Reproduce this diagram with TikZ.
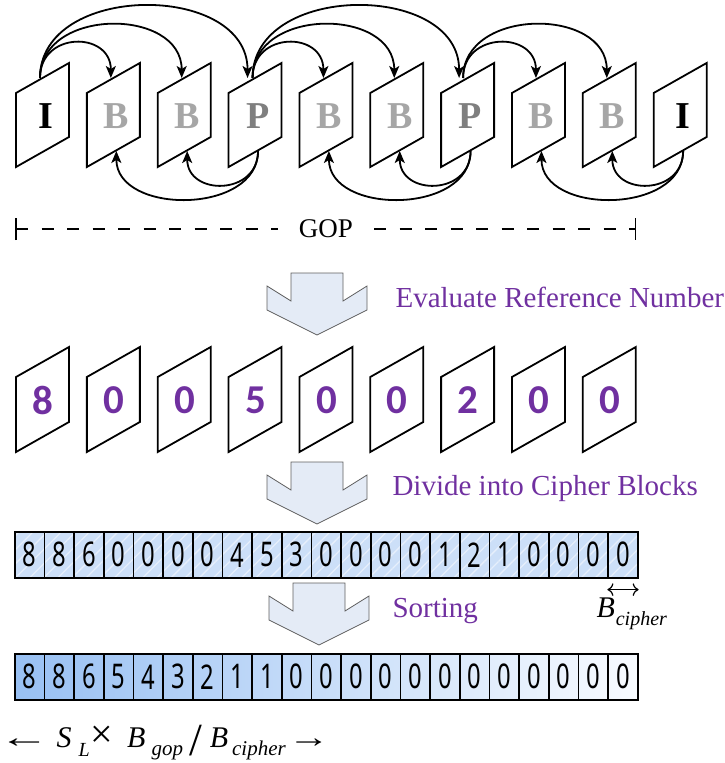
\documentclass[tikz,border=0pt]{standalone}
\usepackage{fontspec}
\usepackage{graphicx}
\setmainfont{Liberation Serif}
\newfontfamily\digitfont[FakeStretch=0.7]{Noto Sans}
\newfontfamily\refnumfont{Carlito}
\usetikzlibrary{arrows.meta,patterns.meta}
\definecolor{stepviolet}{HTML}{7030A0}
\definecolor{arrowfill}{HTML}{E4EBF6}
\definecolor{arrowedge}{HTML}{5F5F5F}
\definecolor{hatchblue}{HTML}{CCDFF8}
\definecolor{hatchline}{HTML}{E6EFFC}
\definecolor{sortblue}{HTML}{98C0F3}
\definecolor{sortwhite}{HTML}{F8FBFF}
\definecolor{ltrI}{HTML}{000000}
\definecolor{ltrB}{HTML}{A6A6A6}
\definecolor{ltrP}{HTML}{7F7F7F}
\tikzset{
  frame/.style={draw, line width=1.8pt},
  link/.style={line width=1.8pt, -{Stealth[length=12pt,width=10pt,inset=3pt]}},
  gopline/.style={line width=1.5pt, dash pattern=on 12pt off 13.5pt},
  blockarrow/.style={draw=arrowedge, fill=arrowfill, line width=0.8pt},
  steplabel/.style={anchor=base west, text=stepviolet, font=\fontsize{29}{29}\selectfont},
  cell/.style={draw, line width=1.6pt, minimum width=29.67pt, minimum height=46pt,
    inner sep=0pt, anchor=north west, font=\digitfont\fontsize{34}{34}\selectfont},
}
\begin{document}
\begin{tikzpicture}[x=1pt, y=-1pt]
\useasboundingbox (0,0) rectangle (725,763);

% frames of the group of pictures
\foreach \t [count=\i] in {I,B,B,P,B,B,P,B,B,I}{
  \pgfmathsetmacro\xo{16+(\i-1)*70.85}
  \draw[frame] (\xo,93) -- ++(53,-30) -- ++(0,74) -- ++(-53,30) -- cycle;
  \node[font=\fontsize{38}{38}\selectfont\bfseries, text=ltr\t] (f\i) at (\xo+29.5,116) {\t};
  \coordinate (t\i) at (\xo+24,78);
  \coordinate (b\i) at (\xo+29.5,151);
}
\draw[link] (t1) .. controls +(0,-47) and +(0,-47) .. (t2);
\draw[link] (t1) .. controls +(0,-71) and +(0,-71) .. (t3);
\draw[link] (t1) .. controls +(0,-96) and +(0,-96) .. ([xshift=-5pt]t4);
\draw[link] (t4) .. controls +(0,-47) and +(0,-47) .. (t5);
\draw[link] (t4) .. controls +(0,-71) and +(0,-71) .. (t6);
\draw[link] (t4) .. controls +(0,-96) and +(0,-96) .. ([xshift=-6pt]t7);
\draw[link] ([xshift=-2pt]t7) .. controls +(0,-47) and +(0,-47) .. (t8);
\draw[link] ([xshift=-2pt]t7) .. controls +(0,-71) and +(0,-71) .. (t9);
\draw[link] (b4) .. controls +(0,45) and +(0,45) .. (b3);
\draw[link] (b4) .. controls +(0,64) and +(0,64) .. (b2);
\draw[link] (b7) .. controls +(0,45) and +(0,45) .. (b6);
\draw[link] (b7) .. controls +(0,64) and +(0,64) .. (b5);
\draw[link] (b10) .. controls +(0,45) and +(0,45) .. (b9);
\draw[link] (b10) .. controls +(0,64) and +(0,64) .. (b8);

\coordinate (gopl) at (15,229);
\coordinate (gopr) at (636,229);
\node[font=\fontsize{27}{27}\selectfont, inner xsep=21pt] (gop) at (326,229) {GOP};
\draw[gopline, {Bar[width=22pt]}-] (gopl) -- (gop);
\draw[gopline, -{Bar[width=22pt]}] (gop) -- (gopr);

\foreach \cx/\cy in {317/273, 317/462, 319/583}
  \draw[blockarrow] (\cx,\cy) ++(-26,0) -- ++(52,0) -- ++(0,28) -- ++(24,-15) -- ++(0,24)
    -- ++(-50,25) -- ++(-50,-25) -- ++(0,-24) -- ++(24,15) -- cycle;
\node[steplabel] (evalref) at (392,307) {Evaluate Reference Number};
\node[steplabel] (divide) at (389,495) {Divide into Cipher Blocks};
\node[steplabel] (sorting) at (389,617) {Sorting};

% reference counts per frame
\foreach \n [count=\i] in {8,0,0,5,0,0,2,0,0}{
  \pgfmathsetmacro\xo{16+(\i-1)*70.85}
  \draw[frame] (\xo,377) -- ++(53,-30) -- ++(0,75) -- ++(-53,30) -- cycle;
  \node[font=\refnumfont\bfseries\fontsize{41}{41}\selectfont, text=stepviolet] (n\i) at (\xo+27,400) {\n};
}

% cipher blocks
\fill[hatchblue] (14,531) rectangle (637,577);
\fill[pattern={Lines[angle=45,distance=10pt,line width=1.3pt]}, pattern color=hatchline]
  (14,531) rectangle (637,577);
\foreach \v [count=\i] in {8,8,6,0,0,0,0,4,5,3,0,0,0,0,1,2,1,0,0,0,0}
  \node[cell] (c\i) at ({14+(\i-1)*29.67},531) {\v};
\draw[{To[length=6pt]}-{To[length=6pt]}, line width=1.2pt]
  ([yshift=-11pt]c21.south west) -- ([yshift=-11pt]c21.south east);
\node[anchor=base west, font=\fontsize{30}{30}\selectfont\itshape] (bcipher) at (593,617)
  {B\kern1pt\raisebox{-8pt}{\fontsize{20}{20}\selectfont cipher}};

% sorted blocks
\shade[left color=sortblue, right color=sortwhite] (14,653) rectangle (637,699);
\foreach \v [count=\i] in {8,8,6,5,4,3,2,1,1,0,0,0,0,0,0,0,0,0,0,0,0}
  \node[cell] (s\i) at ({14+(\i-1)*29.67},653) {\v};

\node[anchor=base west, font=\fontsize{30}{30}\selectfont] (span) at (-5,747)
  {\scalebox{1.7}[1]{←}\hspace{7pt}\textit{S}\hspace{7pt}\raisebox{-9pt}{\fontsize{20}{20}\selectfont\itshape L}\hspace{1pt}{\fontsize{40}{40}\selectfont ×}\hspace{14pt}\textit{B}\hspace{6pt}\raisebox{-8pt}{\fontsize{21}{21}\selectfont\itshape gop}\hspace{6pt}\raisebox{-8pt}{\fontsize{46}{46}\selectfont /}\hspace{8pt}\textit{B}\hspace{4pt}\raisebox{-8pt}{\fontsize{21}{21}\selectfont\itshape cipher}\hspace{2pt}\scalebox{1.4}[1]{→}};
\end{tikzpicture}
\end{document}
